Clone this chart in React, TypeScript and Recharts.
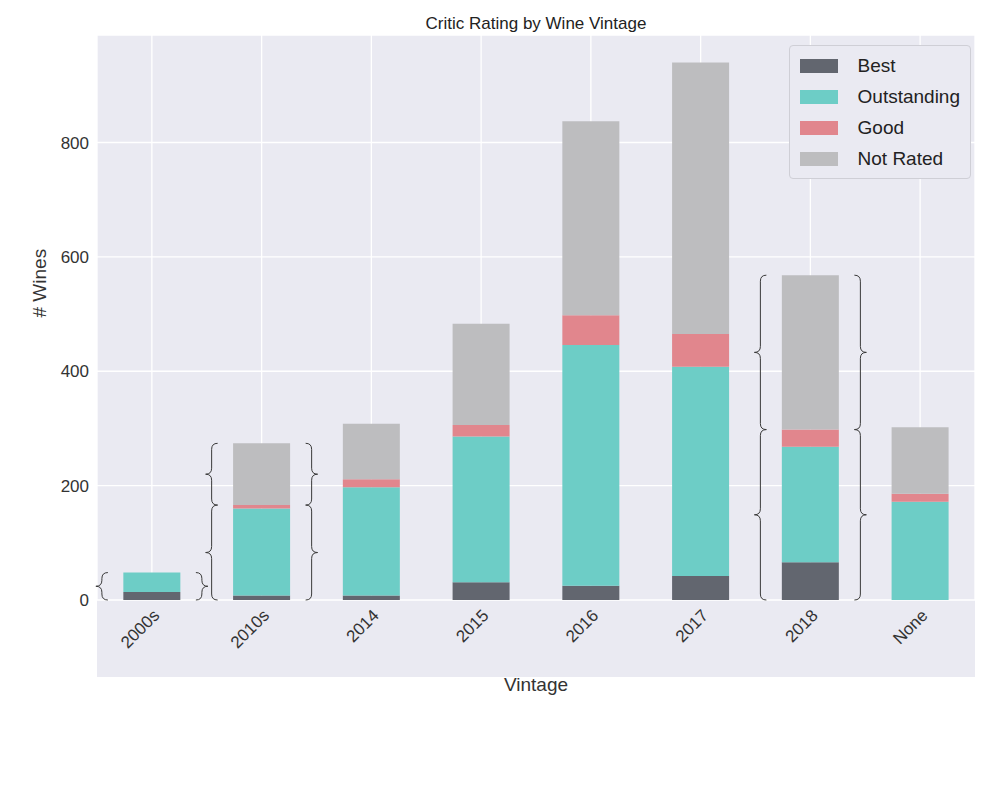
import { BarChart, Bar, XAxis, YAxis, CartesianGrid, ReferenceLine } from 'recharts';

const vintages = ['2000s', '2010s', '2014', '2015', '2016', '2017', '2018', 'None'];
const best = [14, 8, 8, 31, 25, 42, 66, 0];
const outstanding = [34, 152, 189, 255, 421, 366, 202, 172];
const good = [0, 6, 14, 20, 52, 57, 30, 14];
const notRated = [0, 108, 97, 177, 339, 475, 270, 116];
const yTicks = [0, 200, 400, 600, 800];

// brace annotations: category, from value, to value
const braces: [string, number, number][] = [
  ['2000s', 0, 48],
  ['2010s', 0, 166],
  ['2010s', 166, 274],
  ['2018', 0, 298],
  ['2018', 298, 568],
];

const series = [
  { key: 'best', name: 'Best', color: '#62666f' },
  { key: 'outstanding', name: 'Outstanding', color: '#6dcdc6' },
  { key: 'good', name: 'Good', color: '#e1868d' },
  { key: 'notRated', name: 'Not Rated', color: '#bdbdbf' },
];

const data = vintages.map((v, i) => ({
  vintage: v,
  best: best[i],
  outstanding: outstanding[i],
  good: good[i],
  notRated: notRated[i],
}));

const font = 'Arial, "Liberation Sans", sans-serif';

function Brace(props: any) {
  const { x1, y1, y2 } = props;
  if (x1 == null) return null;
  const yt = Math.min(y1, y2);
  const yb = Math.max(y1, y2);
  const ym = (yt + yb) / 2;
  const w = 6;
  const l = x1 - 50;
  const r = x1 + 50;
  const left = `M${l + w},${yt} Q${l},${yt} ${l},${yt + w} L${l},${ym - w} Q${l},${ym} ${l - w},${ym} Q${l},${ym} ${l},${ym + w} L${l},${yb - w} Q${l},${yb} ${l + w},${yb}`;
  const right = `M${r - w},${yt} Q${r},${yt} ${r},${yt + w} L${r},${ym - w} Q${r},${ym} ${r + w},${ym} Q${r},${ym} ${r},${ym + w} L${r},${yb - w} Q${r},${yb} ${r - w},${yb}`;
  return (
    <g fill="none" stroke="#3a3a3a" strokeWidth={1}>
      <path d={left} />
      <path d={right} />
    </g>
  );
}

export default function App() {
  return (
    <div style={{ position: 'relative', width: 976, height: 778, fontFamily: font }}>
      <div style={{ position: 'absolute', top: 27, left: 89, width: 878, height: 642, background: '#eaeaf2' }} />
      <div style={{ position: 'absolute', top: 6, left: 89, width: 878, textAlign: 'center', fontSize: 17, color: '#222' }}>
        Critic Rating by Wine Vintage
      </div>
      <div style={{ position: 'absolute' }}>
        <BarChart width={976} height={778} data={data} margin={{ top: 27, right: 9, bottom: 93, left: 29 }} barCategoryGap="24%">
          <CartesianGrid stroke="#ffffff" strokeWidth={1.3} />
          <XAxis
            dataKey="vintage"
            axisLine={false}
            tickLine={false}
            interval={0}
            angle={-45}
            textAnchor="end"
            height={93}
            tick={{ fontSize: 17, fill: '#333' }}
            label={{ value: 'Vintage', position: 'insideBottom', offset: 2, fontSize: 19, fill: '#333' }}
          />
          <YAxis
            domain={[0, 988]}
            ticks={yTicks}
            axisLine={false}
            tickLine={false}
            tick={{ fontSize: 17, fill: '#333' }}
            width={60}
            label={{ value: '# Wines', angle: -90, position: 'insideLeft', offset: 2, fontSize: 19, fill: '#333' }}
          />
          {series.map((s) => (
            <Bar key={s.key} dataKey={s.key} name={s.name} stackId="a" fill={s.color} isAnimationActive={false} />
          ))}
          {braces.map(([cat, from, to], i) => (
            <ReferenceLine key={i} segment={[{ x: cat, y: from }, { x: cat, y: to }]} shape={(p: any) => <Brace {...p} />} ifOverflow="visible" />
          ))}
        </BarChart>
      </div>
      <div style={{ position: 'absolute', top: 37, right: 13, background: '#eaeaf2', border: '1px solid #cfcfd6', borderRadius: 4, padding: '4px 10px', fontSize: 19, color: '#222' }}>
        {series.map((s) => (
          <div key={s.key} style={{ display: 'flex', alignItems: 'center', height: 31 }}>
            <div style={{ width: 38, height: 14, background: s.color, marginRight: 20 }} />
            {s.name}
          </div>
        ))}
      </div>
    </div>
  );
}
